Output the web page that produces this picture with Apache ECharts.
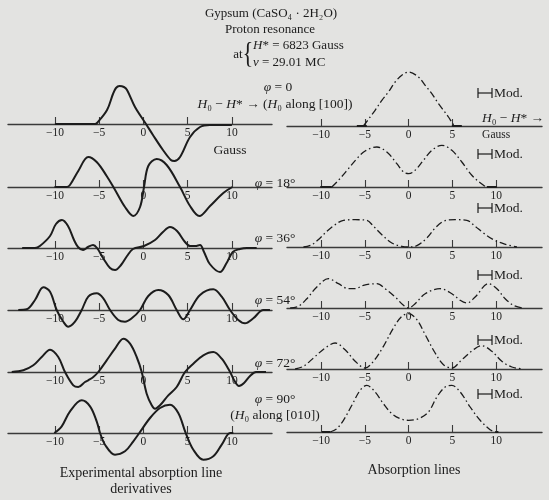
<!DOCTYPE html>
<html><head><meta charset="utf-8">
<script src="https://cdn.jsdelivr.net/npm/echarts@6/dist/echarts.min.js"></script>
<style>html,body{margin:0;padding:0;background:#e3e3e1}#c{width:549px;height:500px}</style>
</head><body><div id="c"></div><script>
// ---------- data ----------
const tickValues = [-10, -5, 0, 5, 10];
const phiLabels = ['0', '18°', '36°', '54°', '72°', '90°'];

// Experimental absorption line derivatives (x in Gauss, y relative)
const left0 = [[-10.0,0],[-5.47,0],[-5.24,1],[-4.11,14],[-3.44,30],[-3.1,36],[-2.7,38],[-2.2,37],[-1.85,34],[-0.95,17],[0.29,0],[1.08,-11],[2.21,-26],[3.1,-36],[3.5,-37],[4.14,-33],[5.27,-13],[6.4,-3],[7.5,-1],[10.0,-1]];
const left18 = [[-10.05,0],[-8.67,0],[-8.3,2],[-7.36,16],[-6.23,30],[-5.28,25],[-4.15,11],[-3.2,-3],[-2.08,-20],[-1.14,-29],[-0.38,-20],[0.07,0],[0.55,21],[1.5,28],[2.63,22],[4.14,0],[5.27,-19],[6.32,-29],[7.53,-19],[9.03,-6],[10.05,0]];
const left36 = [[-13.7,0],[-12.25,0],[-11.7,2],[-10.55,12],[-9.88,24],[-9.2,28],[-8.52,22],[-7.84,8],[-7.39,1],[-6.82,-2],[-6.26,1],[-5.69,3],[-5.24,0],[-4.56,-10],[-3.77,-20],[-3.2,-22],[-2.53,-17],[-1.85,-8],[-1.18,-1],[0.07,2],[1.31,8],[2.21,16],[3.0,21],[3.8,17],[4.7,6],[5.27,2],[5.85,2],[6.4,3],[6.85,-4],[7.5,-16],[8.65,-24],[9.4,-15],[10.1,-4],[10.9,-1],[11.7,0],[12.8,0]];
const left54 = [[-14.14,0],[-13.19,0.7],[-12.25,10],[-11.31,22.7],[-10.55,18.3],[-9.8,0],[-9.05,-11.7],[-8.49,-16.7],[-7.73,-11.7],[-6.97,0],[-6.23,13.3],[-5.28,16.7],[-4.53,11.7],[-3.77,0],[-2.84,-10],[-2.08,-11.7],[-1.32,-8.3],[-0.38,0],[0.55,14],[1.68,20],[2.81,15],[3.76,0],[4.51,-9.3],[5.27,0],[6.4,15],[7.9,20.7],[8.85,13.3],[9.79,0],[10.72,-10],[11.48,-13.3],[12.42,-8.3],[13.55,0],[14.3,0]];
const left72 = [[-14.88,0],[-13.57,1.7],[-12.44,6.7],[-11.49,15],[-10.55,22.3],[-9.62,15],[-8.86,0],[-7.92,-13.3],[-7.36,-15],[-6.6,-10],[-6.23,-8.3],[-5.66,-5],[-5.1,0],[-4.15,11.7],[-3.21,23.3],[-2.27,33.3],[-1.51,28.3],[-0.76,15],[-0.19,0],[0.37,-21.7],[0.94,-33.3],[1.31,-36.7],[1.88,-33.3],[2.81,-23.3],[3.76,-15],[4.7,0],[5.64,8.3],[6.77,16.7],[7.9,20],[8.85,13.3],[9.79,0],[10.24,-8],[10.8,-14],[11.37,-11],[12.05,-4],[12.72,0],[13.85,0]];
const left90 = [[-10.07,0],[-9.23,6.7],[-8.29,21.7],[-6.97,32.7],[-6.03,26.7],[-5.28,11.7],[-4.9,0],[-4.34,-11.7],[-3.21,-21.7],[-2.08,-18.3],[-1.14,-8.3],[-0.46,0],[0.75,15],[1.88,25],[3.01,28.3],[3.94,20],[4.78,0],[5.64,-16.7],[6.77,-26.7],[7.9,-23.3],[8.85,-11.7],[9.79,0],[10.16,0]];

// Absorption lines
const right0 = [[-5.17,0],[-4.4,9],[-3.83,15.7],[-3.06,25.7],[-2.31,34],[-1.54,44],[-0.78,50.7],[0,54],[1.12,49],[1.89,40.7],[2.65,32.3],[3.41,22.3],[3.98,15.7],[4.55,9],[5.05,2.3],[5.31,0]];
const right18 = [[-8.78,0],[-8.02,6.7],[-6.88,18.3],[-5.92,28.3],[-4.97,36],[-3.63,40],[-2.49,35],[-1.35,23.3],[-0.59,15],[0,13.3],[0.74,16.7],[1.69,26.7],[2.65,36.7],[3.79,41.7],[4.94,36.7],[6.08,25],[7.22,11.7],[8.55,1.7],[8.94,0]];
const right36 = [[-12.02,0],[-11.06,2.3],[-10.11,9],[-9.35,15.7],[-8.4,22.3],[-7.45,26.7],[-6.11,27.3],[-4.78,26.7],[-4.02,20.7],[-3.06,12.3],[-1.92,4],[-0.78,0.7],[0,0],[0.94,1.3],[2.08,9],[3.03,19],[3.98,25.7],[5.31,27.3],[6.65,26.7],[7.6,20.7],[8.55,14],[9.69,7.3],[10.83,3.3],[12.37,0]];
const right54 = [[-13.54,0],[-12.59,1.7],[-11.63,9.3],[-10.49,21],[-9.17,29.3],[-8.02,24.3],[-6.88,19.3],[-6.11,19.3],[-5.17,22.7],[-3.63,24.3],[-2.69,19.3],[-1.54,11],[-0.59,2.7],[0,0],[0.74,4.3],[1.89,14.3],[3.6,19.3],[4.94,14.3],[5.89,7.7],[6.65,5],[7.6,11],[9.12,24.3],[10.08,19.3],[11.03,9.3],[11.98,2.7],[12.94,0]];
const right72 = [[-12.97,0],[-12.02,2.7],[-10.88,11],[-9.54,21],[-8.4,26],[-7.26,19.3],[-6.11,7.7],[-4.97,1],[-4.02,7.7],[-2.88,22.7],[-1.74,41],[-0.78,52.7],[0,55.3],[0.94,49.3],[1.89,34.3],[3.03,16],[3.98,4.3],[4.94,1],[6.08,9.3],[7.41,19.3],[8.37,23.3],[9.51,17.7],[10.65,7.7],[11.79,2],[13.12,0]];
const right90 = [[-8.97,0],[-8.21,3.3],[-7.45,11.7],[-6.49,26.7],[-5.54,41.7],[-4.78,46.7],[-3.83,40],[-2.88,28.3],[-1.92,18.3],[-0.97,13.3],[0,11.7],[1.12,13.3],[2.26,20],[3.22,35],[4.17,45],[4.94,46.7],[5.89,40],[7.03,25],[8.17,11.7],[9.31,2.3],[9.89,0]];
// short solid base segments [from, to]
const base0 = [[-5.92,-4.78],[4.94,6.08]];
const base18 = [[-10.1,-8.78],[8.94,10.08]];
const base90 = [[-9.92,-8.97],[9.89,10.26]];

// ---------- chart ----------
const leftCurves = [left0, left18, left36, left54, left72, left90];
const rightCurves = [right0, right18, right36, right54, right72, right90];
const rightBases = [base0, base18, [], [], [], base90];
const leftAxisY = [124, 187, 248, 310, 372, 433];
const rightAxisY = [126, 187, 247, 308, 369, 432];
const modY = [93, 154, 208, 275, 340, 394];
const phiY = [87, 183, 238, 300, 363, 399];

const SERIF = 'Liberation Serif';
const INK = '#1c1c1c';
const fmtNum = v => v < 0 ? '\u2212' + Math.abs(v) : String(v);

const grids = [], xAxes = [], yAxes = [], series = [];
function addPanel(left, width, axisY, min, max, tVals, lVals, fmt) {
  const gi = grids.length;
  grids.push({left: left, width: width, top: axisY - 60, height: 60});
  xAxes.push({
    type: 'value', gridIndex: gi, min: min, max: max, position: 'bottom',
    axisLine: {onZero: false, lineStyle: {color: '#3a3a3a', width: 1.4}},
    axisTick: {inside: true, length: 7, customValues: tVals, lineStyle: {color: '#3a3a3a', width: 1.1}},
    axisLabel: {customValues: lVals, margin: 3, fontFamily: SERIF, fontSize: 11.5, color: '#222', formatter: fmt},
    splitLine: {show: false}
  });
  yAxes.push({type: 'value', gridIndex: gi, min: 0, max: 60, show: false});
  return gi;
}

for (let i = 0; i < 6; i++) {
  const gl = addPanel(8, 264, leftAxisY[i], -15.3, 14.53, tickValues, tickValues, fmtNum);
  series.push({type: 'line', xAxisIndex: gl, yAxisIndex: gl, data: leftCurves[i], smooth: 0.35, clip: false,
    symbol: 'none', lineStyle: {color: INK, width: 2}, z: 5});
  const rt = i === 0 ? [-10, -5, 0, 5] : tickValues;
  const rf = i === 0 ? (v => v === 10 ? 'Gauss' : fmtNum(v)) : fmtNum;
  const gr = addPanel(287, 255, rightAxisY[i], -13.9, 15.24, rt, tickValues, rf);
  series.push({type: 'line', xAxisIndex: gr, yAxisIndex: gr, data: rightCurves[i], smooth: 0.35, clip: false,
    symbol: 'none', lineStyle: {color: INK, width: 1.3, type: [7, 3, 1.5, 3]}, z: 5});
  rightBases[i].forEach(seg => {
    series.push({type: 'line', xAxisIndex: gr, yAxisIndex: gr, data: [[seg[0], 0], [seg[1], 0]], clip: false,
      symbol: 'none', lineStyle: {color: INK, width: 2}, z: 5});
  });
}

// ---------- annotations ----------
function mkRich(size) {
  return {
    n: {fontFamily: SERIF, fontSize: size, color: INK},
    i: {fontFamily: SERIF, fontSize: size, color: INK, fontStyle: 'italic'}
  };
}
function txt(x, y, text, size, align) {
  size = size || 13.5;
  return {type: 'text', x: x, y: y, z: 10, style: {text: text, fontFamily: SERIF, fontSize: size,
    fill: INK, align: align || 'center', verticalAlign: 'middle', rich: mkRich(size)}};
}
const g = [];
g.push(txt(271, 14, 'Gypsum (CaSO\u2084 \u00b7 2H\u2082O)', 13));
g.push(txt(270, 30, 'Proton resonance', 13));
g.push(txt(238, 55, 'at', 13));
g.push({type: 'text', x: 248, y: 54, z: 10, scaleX: 0.75, style: {text: '{', fontFamily: SERIF, fontSize: 30, fill: INK, align: 'center', verticalAlign: 'middle'}});
g.push(txt(253, 46, '{i|H}{n|* = 6823 Gauss}', 13, 'left'));
g.push(txt(253, 63, '{i|\u03bd}{n| = 29.01 MC}', 13, 'left'));
g.push(txt(275, 104, '{i|H}{n|\u2080 \u2212 }{i|H}{n|* \u2192 (}{i|H}{n|\u2080 along [100])}'));
g.push(txt(230, 150, 'Gauss'));
g.push(txt(513, 118, '{i|H}{n|\u2080 \u2212 }{i|H}{n|* \u2192}'));
for (let i = 0; i < 6; i++) {
  g.push(txt(i === 0 ? 278 : 275, phiY[i], '{i|\u03c6}{n| = ' + phiLabels[i] + '}'));
  const y = modY[i];
  g.push({type: 'line', z: 10, shape: {x1: 478, y1: y, x2: 492, y2: y}, style: {stroke: INK, lineWidth: 1.2}});
  g.push({type: 'line', z: 10, shape: {x1: 478, y1: y - 5, x2: 478, y2: y + 5}, style: {stroke: INK, lineWidth: 1.2}});
  g.push({type: 'line', z: 10, shape: {x1: 492, y1: y - 5, x2: 492, y2: y + 5}, style: {stroke: INK, lineWidth: 1.2}});
  g.push(txt(494, y, 'Mod.', 13.5, 'left'));
}
g.push(txt(275, 415, '({i|H}{n|\u2080 along [010])}'));
g.push(txt(141, 473, 'Experimental absorption line', 14));
g.push(txt(141, 489, 'derivatives', 14));
g.push(txt(414, 470, 'Absorption lines', 14));

const chart = echarts.init(document.getElementById('c'));
chart.setOption({
  backgroundColor: '#e3e3e1',
  animation: false,
  grid: grids, xAxis: xAxes, yAxis: yAxes, series: series,
  graphic: g
});
</script></body></html>
